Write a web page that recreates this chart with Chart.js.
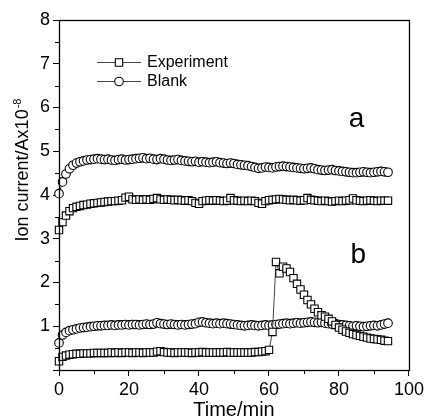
<!DOCTYPE html>
<html>
<head>
<meta charset="utf-8">
<script src="https://cdn.jsdelivr.net/npm/chart.js@4.4.0/dist/chart.umd.min.js"></script>
<style>
  html, body { margin: 0; padding: 0; background: #fff; }
  #wrap { width: 427px; height: 420px; }
</style>
</head>
<body>
<div id="wrap"><canvas id="c" width="427" height="420"></canvas></div>
<script>
// ---- Data ----
const timeMin = [0,1,2,3,4,5,6,7,8,9,10,11,12,13,14,15,16,17,18,19,20,21,22,23,24,25,26,27,28,29,30,31,32,33,34,35,36,37,38,39,40,41,42,43,44,45,46,47,48,49,50,51,52,53,54,55,56,57,58,59,60,61,62,63,64,65,66,67,68,69,70,71,72,73,74,75,76,77,78,79,80,81,82,83,84,85,86,87,88,89,90,91,92,93,94];

const blankA = [4.03,4.30,4.48,4.60,4.68,4.73,4.76,4.78,4.80,4.81,4.82,4.83,4.82,4.81,4.82,4.80,4.79,4.81,4.82,4.80,4.81,4.82,4.83,4.84,4.85,4.83,4.84,4.82,4.81,4.83,4.82,4.80,4.79,4.80,4.81,4.79,4.78,4.77,4.76,4.77,4.75,4.76,4.75,4.74,4.75,4.76,4.74,4.73,4.72,4.73,4.72,4.70,4.69,4.68,4.67,4.65,4.63,4.61,4.62,4.64,4.63,4.62,4.64,4.65,4.66,4.65,4.64,4.63,4.62,4.61,4.60,4.61,4.62,4.60,4.58,4.57,4.56,4.57,4.58,4.56,4.55,4.54,4.53,4.52,4.51,4.51,4.52,4.53,4.52,4.51,4.52,4.53,4.54,4.53,4.52];

const experimentA = [3.20,3.38,3.53,3.63,3.70,3.73,3.75,3.77,3.78,3.80,3.81,3.82,3.83,3.84,3.85,3.86,3.86,3.87,3.88,3.94,3.96,3.90,3.89,3.90,3.89,3.90,3.89,3.91,3.93,3.90,3.89,3.90,3.89,3.88,3.89,3.88,3.87,3.88,3.86,3.82,3.80,3.86,3.87,3.88,3.87,3.88,3.87,3.86,3.87,3.93,3.88,3.87,3.86,3.87,3.86,3.87,3.86,3.82,3.80,3.86,3.88,3.89,3.90,3.91,3.90,3.89,3.88,3.89,3.88,3.87,3.88,3.93,3.89,3.88,3.87,3.86,3.87,3.86,3.85,3.86,3.87,3.86,3.87,3.88,3.92,3.88,3.87,3.86,3.87,3.88,3.87,3.86,3.87,3.87,3.87];

const blankB = [0.62,0.80,0.86,0.90,0.92,0.94,0.96,0.97,0.98,0.99,1.00,1.01,1.01,1.02,1.02,1.03,1.02,1.03,1.03,1.04,1.03,1.04,1.04,1.03,1.04,1.05,1.04,1.05,1.08,1.06,1.05,1.04,1.05,1.04,1.03,1.04,1.03,1.04,1.05,1.06,1.09,1.10,1.08,1.07,1.06,1.07,1.06,1.07,1.06,1.05,1.04,1.03,1.02,1.01,1.02,1.03,1.02,1.01,1.02,1.03,1.02,1.03,1.04,1.05,1.06,1.07,1.06,1.07,1.08,1.07,1.08,1.09,1.10,1.09,1.08,1.09,1.07,1.06,1.05,1.06,1.04,1.03,1.02,1.01,1.00,1.01,1.00,0.99,1.00,1.01,1.02,1.01,1.03,1.05,1.07];

const experimentB = [0.20,0.30,0.33,0.35,0.36,0.37,0.37,0.38,0.38,0.38,0.39,0.39,0.39,0.39,0.39,0.40,0.39,0.40,0.39,0.40,0.40,0.39,0.40,0.40,0.39,0.40,0.40,0.40,0.42,0.43,0.41,0.40,0.40,0.39,0.40,0.40,0.40,0.40,0.39,0.40,0.40,0.41,0.40,0.40,0.40,0.40,0.40,0.40,0.41,0.40,0.40,0.40,0.40,0.40,0.40,0.40,0.41,0.41,0.42,0.43,0.46,0.87,2.47,2.21,2.36,2.32,2.24,2.10,1.97,1.84,1.72,1.60,1.50,1.40,1.32,1.25,1.22,1.17,1.11,1.03,0.97,0.92,0.88,0.85,0.82,0.80,0.78,0.76,0.74,0.72,0.71,0.70,0.69,0.67,0.66];

const legendLabels = ['Experiment', 'Blank'];
const panelLabels = [{text: 'a', x: 85, y: 5.72}, {text: 'b', x: 85.5, y: 2.62}];
const yTitle = {main: 'Ion current/Ax10', sup: '-8'};
const xTicks = [0, 20, 40, 60, 80, 100];
const xMinorTicks = [10, 30, 50, 70, 90];
const yMinorTicks = [0.5, 1.5, 2.5, 3.5, 4.5, 5.5, 6.5, 7.5];

// ---- Build ----
const pts = (vals) => vals.map((v, i) => ({x: timeMin[i], y: v}));
const FONT = '"Liberation Sans", Arial, sans-serif';

const squareStyle = {pointStyle: 'rect', pointRadius: 5.2, pointBorderWidth: 1.1};
const circleStyle = {pointStyle: 'circle', pointRadius: 4.3, pointBorderWidth: 1.1};
const common = {
  borderColor: '#444', borderWidth: 1, backgroundColor: '#fff',
  pointBackgroundColor: '#fff', pointBorderColor: '#000',
  showLine: true, fill: false, tension: 0, clip: false, pointHoverRadius: 5
};

const datasets = [
  Object.assign({label: legendLabels[0], data: pts(experimentB)}, common, squareStyle),
  Object.assign({label: legendLabels[1], data: pts(blankB)}, common, circleStyle),
  Object.assign({label: legendLabels[0], data: pts(experimentA)}, common, squareStyle),
  Object.assign({label: legendLabels[1], data: pts(blankA)}, common, circleStyle)
];

const decorPlugin = {
  id: 'decor',
  afterDraw(chart) {
    const ctx = chart.ctx;
    const a = chart.chartArea;
    const xs = chart.scales.x, ys = chart.scales.y;
    ctx.save();
    // frame
    ctx.strokeStyle = '#000';
    ctx.lineWidth = 1.3;
    ctx.strokeRect(a.left + 0.5, a.top + 0.5, a.right - a.left, a.bottom - a.top);
    // minor ticks
    ctx.lineWidth = 1;
    ctx.beginPath();
    xMinorTicks.forEach(v => {
      const px = Math.round(xs.getPixelForValue(v)) + 0.5;
      ctx.moveTo(px, a.bottom); ctx.lineTo(px, a.bottom + 4);
    });
    yMinorTicks.forEach(v => {
      const py = Math.round(ys.getPixelForValue(v)) + 0.5;
      ctx.moveTo(a.left, py); ctx.lineTo(a.left - 4, py);
    });
    ctx.stroke();
    // y axis title with superscript
    ctx.save();
    ctx.fillStyle = '#000';
    ctx.textBaseline = 'alphabetic';
    ctx.textAlign = 'left';
    ctx.font = '18px ' + FONT;
    const wMain = ctx.measureText(yTitle.main).width;
    ctx.font = '11px ' + FONT;
    const wSup = ctx.measureText(yTitle.sup).width;
    const total = wMain + wSup + 1;
    const cy = a.top + 150;
    ctx.translate(28, cy);
    ctx.rotate(-Math.PI / 2);
    ctx.font = '18px ' + FONT;
    ctx.fillText(yTitle.main, -total / 2, 0);
    ctx.font = '11px ' + FONT;
    ctx.fillText(yTitle.sup, -total / 2 + wMain + 1, -7);
    ctx.restore();
    // panel labels
    ctx.fillStyle = '#000';
    ctx.font = '28px ' + FONT;
    ctx.textAlign = 'center';
    ctx.textBaseline = 'middle';
    panelLabels.forEach(p => ctx.fillText(p.text, xs.getPixelForValue(p.x), ys.getPixelForValue(p.y)));
    // legend
    const lx = a.left + 38, ly = a.top + 42, gap = 19;
    [datasets[0], datasets[1]].forEach((ds, i) => {
      const y = ly + i * gap + 0.5;
      ctx.strokeStyle = '#444';
      ctx.lineWidth = 1;
      ctx.beginPath();
      ctx.moveTo(lx, y); ctx.lineTo(lx + 44, y);
      ctx.stroke();
      ctx.fillStyle = '#fff';
      ctx.strokeStyle = '#000';
      ctx.lineWidth = 1.1;
      ctx.beginPath();
      if (ds.pointStyle === 'rect') {
        const s = ds.pointRadius * Math.SQRT1_2;
        ctx.rect(lx + 22 - s, y - s, 2 * s, 2 * s);
      } else {
        ctx.arc(lx + 22, y, ds.pointRadius, 0, Math.PI * 2);
      }
      ctx.fill(); ctx.stroke();
      ctx.fillStyle = '#000';
      ctx.font = '16px ' + FONT;
      ctx.textAlign = 'left';
      ctx.textBaseline = 'middle';
      ctx.fillText(ds.label, lx + 50, y + 0.5);
    });
    ctx.restore();
  }
};

new Chart(document.getElementById('c'), {
  type: 'line',
  data: {datasets},
  options: {
    responsive: false,
    animation: false,
    devicePixelRatio: 1,
    layout: {padding: {top: 20, right: 16, left: 0, bottom: 0}},
    plugins: {legend: {display: false}, tooltip: {enabled: false}},
    scales: {
      x: {
        type: 'linear', min: 0, max: 100,
        afterBuildTicks: s => { s.ticks = xTicks.map(v => ({value: v})); },
        afterFit: s => { s.height = 50; },
        border: {display: false},
        grid: {drawOnChartArea: false, drawTicks: true, tickLength: 6, tickColor: '#000', lineWidth: 1},
        ticks: {color: '#000', font: {family: FONT, size: 18}, padding: 3, maxRotation: 0, autoSkip: false},
        title: {display: true, text: 'Time/min', color: '#000', font: {family: FONT, size: 20, lineHeight: 1}, padding: {top: 0, bottom: 0}}
      },
      y: {
        type: 'linear', min: 0, max: 8,
        ticks: {stepSize: 1, color: '#000', font: {family: FONT, size: 18}, padding: 3,
                callback: v => (v === 0 ? '' : v)},
        afterFit: s => { s.width = 59; },
        border: {display: false},
        grid: {drawOnChartArea: false, drawTicks: true, tickLength: 6, tickColor: '#000', lineWidth: 1},
        title: {display: false}
      }
    }
  },
  plugins: [decorPlugin]
});
</script>
</body>
</html>
